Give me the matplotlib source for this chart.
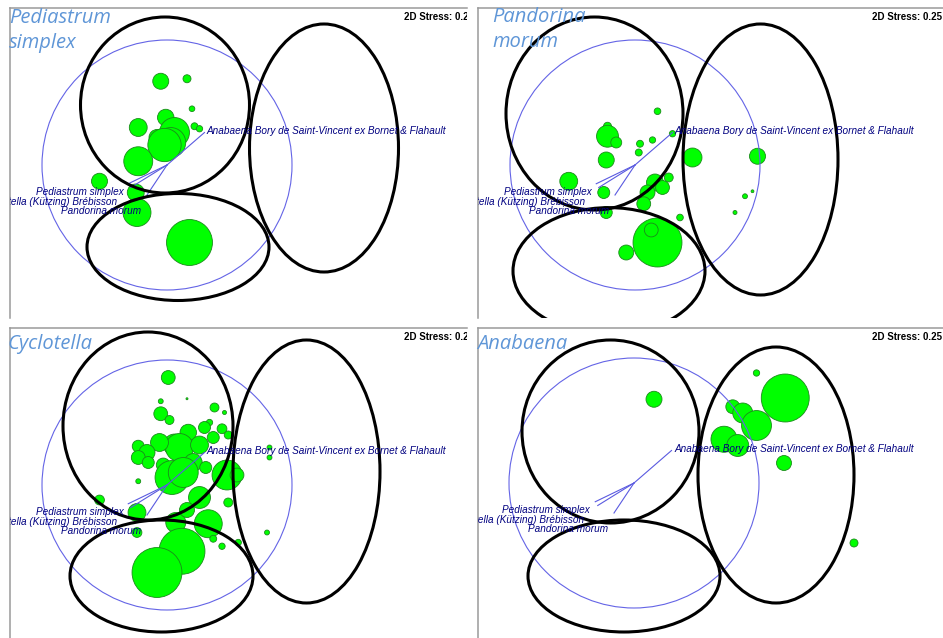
import numpy as np
import matplotlib
matplotlib.use("Agg")
import matplotlib.pyplot as plt
from matplotlib.patches import Circle, Ellipse

# MDS coordinates (x, y) and abundances of the species in each sample
ped_x = [-0.05, 0.16, 0.20, -0.01, -0.23, 0.06, -0.08, 0.03, -0.02, 0.22, 0.26, -0.23, -0.54, -0.25, -0.24, 0.18]
ped_y = [0.67, 0.69, 0.45, 0.38, 0.30, 0.26, 0.22, 0.18, 0.16, 0.31, 0.29, 0.03, -0.13, -0.22, -0.38, -0.62]
ped_a = [32, 8, 4, 34, 40, 112, 32, 112, 139, 6, 5, 105, 32, 36, 98, 264]

pan_x = [0.18, -0.22, -0.22, -0.15, 0.04, 0.14, 0.03, 0.30, -0.23, 0.46, 0.98, -0.53, -0.25, 0.27,
         0.16, 0.22, 0.10, 0.07, -0.23, 0.36, 0.18, 0.13, -0.07, 0.88, 0.94, 0.80]
pan_y = [0.43, 0.31, 0.23, 0.18, 0.17, 0.20, 0.10, 0.25, 0.04, 0.06, 0.07, -0.13, -0.22, -0.10,
         -0.14, -0.18, -0.22, -0.31, -0.38, -0.42, -0.62, -0.52, -0.70, -0.25, -0.21, -0.38]
pan_a = [5.5, 8, 60, 15, 6, 5, 6, 5, 32, 45, 32, 40, 18, 10,
         36, 24, 28, 24, 18, 5.5, 300, 24, 28, 3, 1, 2]

cyc_x = [0.01, -0.05, 0.16, -0.05, 0.02, 0.38, 0.46, 0.34, 0.30, 0.44, 0.49, 0.37, 0.17, 0.06, 0.10,
         -0.06, -0.23, -0.16, -0.23, -0.15, 0.26, -0.03, 0.21, 0.31, 0.04, 0.13, 0.48, 0.56, 0.82, 0.82,
         -0.23, 0.26, 0.49, -0.54, -0.24, 0.07, 0.16, 0.33, -0.24, 0.37, 0.44, 0.57, 0.80, 0.12, -0.08]
cyc_y = [0.86, 0.67, 0.69, 0.57, 0.52, 0.62, 0.58, 0.50, 0.46, 0.45, 0.40, 0.38, 0.42, 0.32, 0.30,
         0.34, 0.31, 0.26, 0.22, 0.18, 0.32, 0.16, 0.18, 0.14, 0.06, 0.10, 0.08, 0.08, 0.30, 0.22,
         0.03, -0.10, -0.14, -0.12, -0.22, -0.30, -0.20, -0.31, -0.38, -0.43, -0.49, -0.46, -0.38, -0.53, -0.70]
cyc_a = [24, 3, 0.5, 24, 10, 10, 2, 5, 18, 12, 8, 18, 34, 60, 98,
         40, 18, 32, 24, 18, 40, 24, 40, 18, 144, 112, 112, 24, 3, 3,
         3, 60, 10, 12, 40, 50, 28, 98, 12, 6, 5, 5, 3, 264, 312]

ana_x = [0.98, 1.21, 0.79, 0.87, 0.98, 0.72, 0.83, 1.20, 1.76, 0.16]
ana_y = [0.88, 0.68, 0.61, 0.56, 0.46, 0.35, 0.30, 0.16, -0.48, 0.67]
ana_a = [5, 288, 24, 50, 112, 85, 60, 28, 8, 32]

# species vectors (overlay)
vec_names = ["Anabaena Bory de Saint-Vincent ex Bornet & Flahault", "Pediastrum simplex",
             "Cyclotella (Kützing) Brébisson", "Pandorina morum"]
vec_x = [0.30, -0.31, -0.29, -0.16]
vec_y = [0.26, -0.15, -0.18, -0.24]

panels = [
    dict(title=["Pediastrum", "simplex"], x=ped_x, y=ped_y, a=ped_a,
         box=(10, 8, 467, 318), xlim=(-1.256, 2.40), ylim=(-1.224, 1.256), tx=9, ty=23,
         ell=[(-0.016, 0.48, 1.352, 1.408), (1.256, 0.136, 1.192, 1.984), (0.088, -0.656, 1.456, 0.856)]),
    dict(title=["Pandorina", "morum"], x=pan_x, y=pan_y, a=pan_a,
         box=(478, 8, 943, 318), xlim=(-1.256, 2.464), ylim=(-1.224, 1.256), tx=492, ty=22,
         ell=[(-0.324, 0.412, 1.416, 1.544), (1.004, 0.044, 1.24, 2.168), (-0.208, -0.848, 1.536, 1.014)]),
    dict(title=["Cyclotella"], x=cyc_x, y=cyc_y, a=cyc_a,
         box=(10, 328, 467, 638), xlim=(-1.256, 2.40), ylim=(-1.224, 1.256), tx=8, ty=349,
         ell=[(-0.152, 0.472, 1.36, 1.504), (1.116, 0.108, 1.176, 2.104), (-0.044, -0.728, 1.464, 0.896)]),
    dict(title=["Anabaena"], x=ana_x, y=ana_y, a=ana_a,
         box=(478, 328, 943, 638), xlim=(-1.248, 2.472), ylim=(-1.24, 1.24), tx=477, ty=349,
         ell=[(-0.188, 0.412, 1.416, 1.464), (1.136, 0.064, 1.248, 2.048), (-0.08, -0.744, 1.536, 0.896)]),
]

W, H = 943, 638
fig = plt.figure(figsize=(W / 100, H / 100), dpi=100)

label_font = dict(family="Liberation Sans", style="italic", fontsize=7.2, color="#000080")

for p in panels:
    l, t, r, b = p["box"]
    ax = fig.add_axes([l / W, 1 - b / H, (r - l) / W, (b - t) / H])
    ax.set_xlim(*p["xlim"])
    ax.set_ylim(*p["ylim"])
    ax.set_xticks([])
    ax.set_yticks([])
    for s in ["right", "bottom"]:
        ax.spines[s].set_visible(False)
    for s in ["left", "top"]:
        ax.spines[s].set_color("#9a9a9a")
        ax.spines[s].set_linewidth(1.1)

    # bubbles, radius ~ sqrt(abundance)
    for x, y, a in zip(p["x"], p["y"], p["a"]):
        ax.add_patch(Circle((x, y), 0.0113 * np.sqrt(a), facecolor="#00ff00",
                            edgecolor="#1a8a1a", lw=0.6, zorder=2))

    # correlation circle and vectors
    ax.add_patch(Circle((0, 0), 1.0, fill=False, edgecolor="#6464e6", lw=0.8, zorder=3))
    for vx, vy in zip(vec_x, vec_y):
        ax.plot([0, vx], [0, vy], color="#5a5ae0", lw=0.8, zorder=3)
    ax.text(0.32, 0.27, vec_names[0], ha="left", va="center", zorder=6, clip_on=True, **label_font)
    ax.text(-0.35, -0.215, vec_names[1], ha="right", va="center", zorder=6, clip_on=True, **label_font)
    ax.text(-0.40, -0.295, vec_names[2], ha="right", va="center", zorder=6, clip_on=True, **label_font)
    ax.text(-0.85, -0.365, vec_names[3], ha="left", va="center", zorder=6, clip_on=True, **label_font)

    # group ellipses
    for ex, ey, ew, eh in p["ell"]:
        ax.add_patch(Ellipse((ex, ey), ew, eh, fill=False, edgecolor="black", lw=2.2, zorder=5))

    ax.text(394 / (r - l), 1 - 9 / (b - t), "2D Stress: 0.25", transform=ax.transAxes,
            ha="left", va="center", fontsize=7, fontweight="bold", family="Liberation Sans",
            clip_on=True, zorder=7)

    for i, line in enumerate(p["title"]):
        fig.text(p["tx"] / W, 1 - (p["ty"] + 25 * i) / H, line, ha="left", va="baseline",
                 fontsize=14.5, style="italic", color="#5f96d7", family="Open Sans", zorder=10)

fig.savefig("out.png", dpi=100, facecolor="white")
